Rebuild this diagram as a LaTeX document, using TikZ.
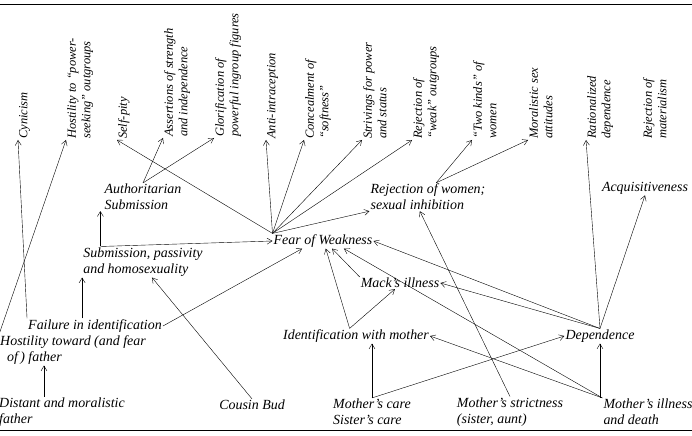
\documentclass[tikz,border=0pt]{standalone}
\usepackage{fontspec}
\setmainfont{Liberation Serif}
\usepackage{tikz}
\usetikzlibrary{arrows.meta}
\begin{document}
\begin{tikzpicture}[x=1bp, y=-1bp, ->, >={Straight Barb[length=5pt,width=6pt]}, thin,
    every node/.style={font=\fontsize{14}{16}\selectfont\itshape, inner sep=1pt},
    trait/.style={rotate=90, anchor=north west, align=left, font=\fontsize{12.5}{14.5}\selectfont\itshape},
    cause/.style={align=left}]
    \useasboundingbox (0,0) rectangle (692,436);
    \draw[-, line width=0.8pt] (0,4) -- (692,4);
    \draw[-, line width=0.8pt] (0,430) -- (692,430);
    %--------------------
    \node[trait] (cynicism)  at (18,140)  {Cynicism};
    \node[trait] (hostPower) at (66,140)  {Hostility to ``power-\\seeking'' outgroups};
    \node[trait] (selfPity)  at (117,140) {Self-pity};
    \node[trait] (assert)    at (163,138) {Assertions of strength\\and independence};
    \node[trait] (glorify)   at (214,138) {Glorification of\\powerful ingroup figures};
    \node[trait] (antiIntra) at (266,140) {Anti-intraception};
    \node[trait] (conceal)   at (304,140) {Concealment of\\``softness''};
    \node[trait] (strive)    at (362,140) {Strivings for power\\and status};
    \node[trait] (rejWeak)   at (412,140) {Rejection of\\``weak'' outgroups};
    \node[trait] (twoKinds)  at (472,140) {``Two kinds'' of\\women};
    \node[trait] (moralSex)  at (528,140) {Moralistic sex\\attitudes};
    \node[trait] (ratDep)    at (586,140) {Rationalized\\dependence};
    \node[trait] (rejMat)    at (642,140) {Rejection of\\materialism};

    \node[cause] (authSub)   at (143,197) {Authoritarian\\Submission};
    \node[cause] (rejWomen)  at (428,197) {Rejection of women;\\sexual inhibition};
    \node[cause] (acquis)    at (645,188) {Acquisitiveness};
    \node[cause] (fear)      at (323,241) {Fear of Weakness};
    \node[cause] (subPass)   at (143,262) {Submission, passivity\\and homosexuality};
    \node[cause] (mack)      at (400,283) {Mack's illness};
    \node[cause] (identMoth) at (356,336) {Identification with mother};
    \node[cause] (depend)    at (600,336) {Dependence};
    \node[cause] (failIdent) at (95,326)  {Failure in identification};
    \node[cause] (hostFath)  at (73,350)  {Hostility toward (and fear\\\ \ of\,) father};
    \node[cause] (distFath)  at (62,412)  {Distant and moralistic\\father};
    \node[cause] (cousin)    at (252,405) {Cousin Bud};
    \node[cause] (mothCare)  at (372,412) {Mother's care\\Sister's care};
    \node[cause] (mothStr)   at (510,412) {Mother's strictness\\(sister, aunt)};
    \node[cause] (mothIll)   at (648,412) {Mother's illness\\and death};
    %--------------------
    \draw (hostFath.north west)  -- (hostPower.north west);
    \draw (failIdent.north west) -- (cynicism.north west);
    \draw (failIdent.90 -| subPass.190) -- (subPass.190 |- subPass.south);
    \draw (failIdent.east)       -- (fear.200);
    \draw (distFath.north -| 44,0) -- (hostFath.south -| 44,0);
    \draw (subPass.160 |- subPass.north) -- (subPass.160 |- authSub.south);
    \draw (subPass.160 |- subPass.north) -- (fear.west);
    \draw (cousin.north)         -- (subPass.-60);
    \draw (authSub.north)        -- (assert.north west);
    \draw (authSub.north)        -- (glorify.north west);
    \draw (fear.north west)      -- (selfPity.north west);
    \foreach \t in {antiIntra, conceal, strive, rejWeak}
        \draw (fear.north west) -- (\t.north west);
    \draw (fear.north west)      -- (rejWomen.west |- rejWomen.south west);
    \draw (rejWomen.60)          -- (twoKinds.north west);
    \draw (rejWomen.60)          -- (moralSex.north west);
    \draw (mack.north west)      -- (fear.-40);
    \draw (identMoth.130)        -- (fear.-70);
    \draw (identMoth.130)        -- (mack.-130);
    \draw (depend.north)         -- (fear.east);
    \draw (depend.north)         -- (mack.east);
    \draw (depend.north)         -- (ratDep.north west);
    \draw (depend.north)         -- (acquis.south);
    \draw (mothCare.north)       -- (mothCare.north |- identMoth.south);
    \draw (mothCare.north)       -- (depend.west);
    \draw (mothStr.north)        -- (rejWomen.-120);
    \draw (mothIll.north west)   -- (identMoth.east);
    \draw (mothIll.north west)   -- (fear.-20);
    \draw (mothIll.north west -| depend.south) -- (depend.south);
\end{tikzpicture}
\end{document}
